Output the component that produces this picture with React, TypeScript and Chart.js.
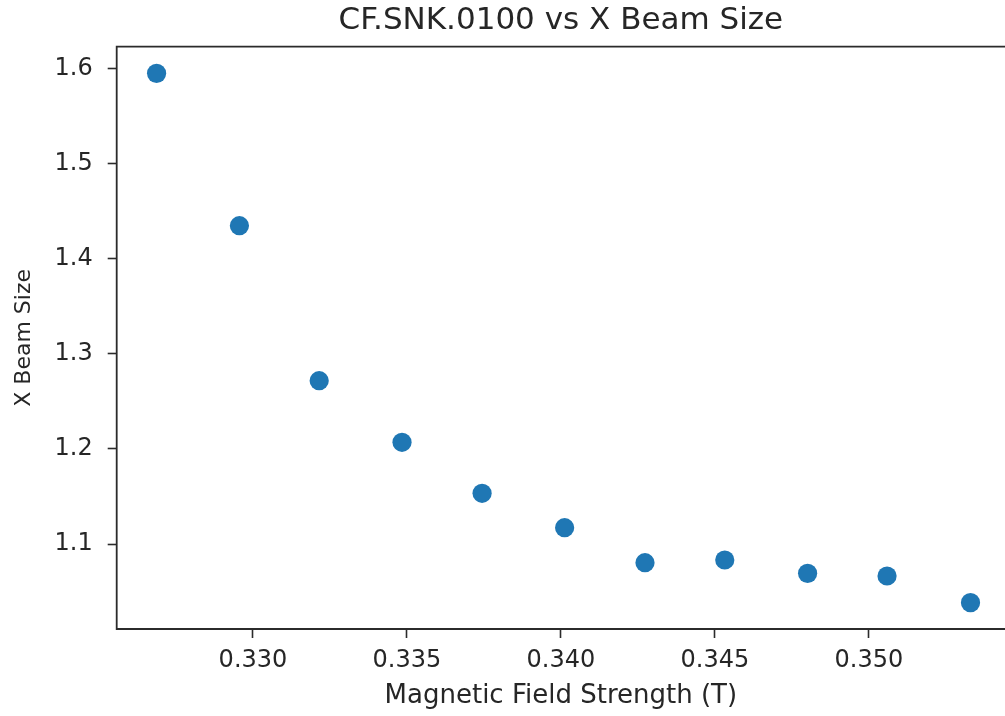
import React, { useEffect, useRef } from "react";
import { Chart, registerables } from "chart.js";

Chart.register(...registerables);

const TITLE = "CF.SNK.0100 vs X Beam Size";
const X_LABEL = "Magnetic Field Strength (T)";
const Y_LABEL = "X Beam Size";

const fieldStrength = [0.32687, 0.32956, 0.33215, 0.33484, 0.33744, 0.34012, 0.34273, 0.34532, 0.34801, 0.35059, 0.3533];
const beamSize = [1.5947, 1.4346, 1.2717, 1.2069, 1.1533, 1.1172, 1.0804, 1.0832, 1.0692, 1.0664, 1.0384];

const X_TICKS = [0.33, 0.335, 0.34, 0.345, 0.35];
const Y_TICKS = [1.1, 1.2, 1.3, 1.4, 1.5, 1.6];
const X_RANGE = [0.325575, 0.35442];
const Y_RANGE = [1.0107, 1.6227];

const FONT = "'DejaVu Sans', sans-serif";
const TEXT = "#262626";
const SPINE = "#2b2b2b";
const POINT = "#1f77b4";

// Axes frame: the right spine lies outside the picture, so only top, left and bottom are drawn.
const framePlugin = {
  id: "frame",
  afterDraw(chart: any) {
    const { ctx, chartArea } = chart;
    const { left, top, right, bottom } = chartArea;
    ctx.save();
    ctx.strokeStyle = SPINE;
    ctx.lineWidth = 1.8;
    ctx.beginPath();
    ctx.moveTo(right + 2, top);
    ctx.lineTo(left, top);
    ctx.lineTo(left, bottom);
    ctx.lineTo(right + 2, bottom);
    ctx.stroke();
    ctx.restore();
  },
};

export default function App() {
  const ref = useRef<HTMLCanvasElement | null>(null);

  useEffect(() => {
    if (!ref.current) return;
    const points = fieldStrength.map((x, i) => ({ x, y: beamSize[i] }));
    const chart = new Chart(ref.current, {
      type: "scatter",
      data: {
        datasets: [
          {
            data: points,
            backgroundColor: POINT,
            borderWidth: 0,
            pointRadius: 9.6,
            pointHoverRadius: 9.6,
          },
        ],
      },
      options: {
        animation: false,
        responsive: true,
        maintainAspectRatio: false,
        layout: { autoPadding: false, padding: { left: 0, right: 0, top: 0, bottom: 0 } },
        plugins: {
          legend: { display: false },
          tooltip: { enabled: false },
          title: {
            display: true,
            text: TITLE,
            fullSize: false,
            color: TEXT,
            font: { family: FONT, size: 31, weight: "normal" },
            padding: { top: 2, bottom: 7.5 },
          },
        },
        scales: {
          x: {
            type: "linear",
            position: "bottom",
            min: X_RANGE[0],
            max: X_RANGE[1],
            afterBuildTicks: (s: any) => {
              s.ticks = X_TICKS.map((v) => ({ value: v }));
            },
            afterFit: (s: any) => {
              s.height = 87;
            },
            border: { display: false },
            grid: { drawOnChartArea: false, drawTicks: true, tickLength: 9, tickWidth: 1.6, tickColor: SPINE },
            ticks: {
              color: TEXT,
              font: { family: FONT, size: 24 },
              padding: 8,
              maxRotation: 0,
              autoSkip: false,
              callback: (v: any) => Number(v).toFixed(3),
            },
            title: {
              display: true,
              text: X_LABEL,
              color: TEXT,
              font: { family: FONT, size: 26 },
              padding: { top: 0, bottom: 4.4 },
            },
          },
          y: {
            type: "linear",
            position: "left",
            min: Y_RANGE[0],
            max: Y_RANGE[1],
            afterBuildTicks: (s: any) => {
              s.ticks = Y_TICKS.map((v) => ({ value: v }));
            },
            afterFit: (s: any) => {
              s.width = 116.7;
            },
            border: { display: false },
            grid: { drawOnChartArea: false, drawTicks: true, tickLength: 9, tickWidth: 1.6, tickColor: SPINE },
            ticks: {
              color: TEXT,
              font: { family: FONT, size: 24 },
              padding: 15,
              autoSkip: false,
              callback: (v: any) => Number(v).toFixed(1),
            },
            title: {
              display: true,
              text: Y_LABEL,
              color: TEXT,
              font: { family: FONT, size: 22 },
              padding: { top: 10.8, bottom: 0 },
            },
          },
        },
      },
      plugins: [framePlugin],
    });
    return () => chart.destroy();
  }, []);

  return (
    <div style={{ position: "fixed", left: 0, top: 0, width: 1005, height: 716, background: "#fff" }}>
      <canvas ref={ref} />
    </div>
  );
}
